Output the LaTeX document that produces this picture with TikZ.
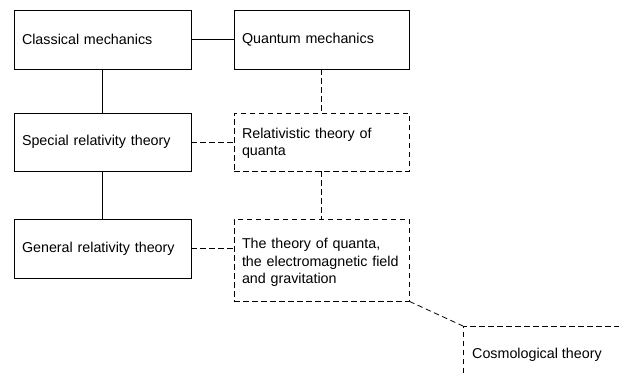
\documentclass[tikz,border=0pt]{standalone}
\usepackage{fontspec}
\setmainfont{Liberation Sans}
\begin{document}
\begin{tikzpicture}[x=1pt,y=-1pt,
  every node/.style={font=\fontsize{14.3}{17.5}\selectfont},
  box/.style={draw, line width=0.8pt, rectangle, align=left, inner xsep=8pt, inner ysep=0pt},
  dbox/.style={box, dash pattern=on 5.5pt off 3.5pt},
  solidline/.style={line width=0.8pt},
  dline/.style={line width=0.8pt, dash pattern=on 5.5pt off 3.5pt}]
\useasboundingbox (0,0) rectangle (619,376);
\node[box, minimum width=177pt, minimum height=59pt, text width=161pt] (classical) at (102.5,39.5) {Classical mechanics};
\node[box, minimum width=175pt, minimum height=59pt, text width=159pt] (quantum) at (321.5,39.5) {Quantum mechanics};
\node[box, minimum width=177pt, minimum height=58pt, text width=161pt] (special) at (102.5,142) {Special relativity theory};
\node[dbox, minimum width=175pt, minimum height=58pt, text width=159pt] (relat) at (321.5,142) {\rule{0pt}{13pt}Relativistic theory of\\quanta};
\node[box, minimum width=177pt, minimum height=59pt, text width=161pt] (general) at (102.5,248.5) {General relativity theory};
\node[dbox, minimum width=175pt, minimum height=82pt, text width=159pt] (theory) at (321.5,260) {\rule{0pt}{15pt}The theory of quanta,\\the electromagnetic field\\and gravitation};
\coordinate (corner) at (463,326);
\coordinate (cright) at (625,326);
\coordinate (cbottom) at (463,382);
\node[anchor=west, inner sep=0pt] (cosmo) at (472,355) {Cosmological theory};
\draw[solidline] (classical.east) -- (quantum.west);
\draw[solidline] (classical.south) -- (special.north);
\draw[solidline] (special.south) -- (general.north);
\draw[dline] (quantum.south) -- (relat.north);
\draw[dline] (relat.south) -- (theory.north);
\draw[dline] (special.east) -- (relat.west);
\draw[dline] (general.east) -- (general.east -| theory.west);
\draw[dline] (theory.south east) -- (corner);
\draw[dline] (cbottom) -- (corner) -- (cright);
\end{tikzpicture}
\end{document}
